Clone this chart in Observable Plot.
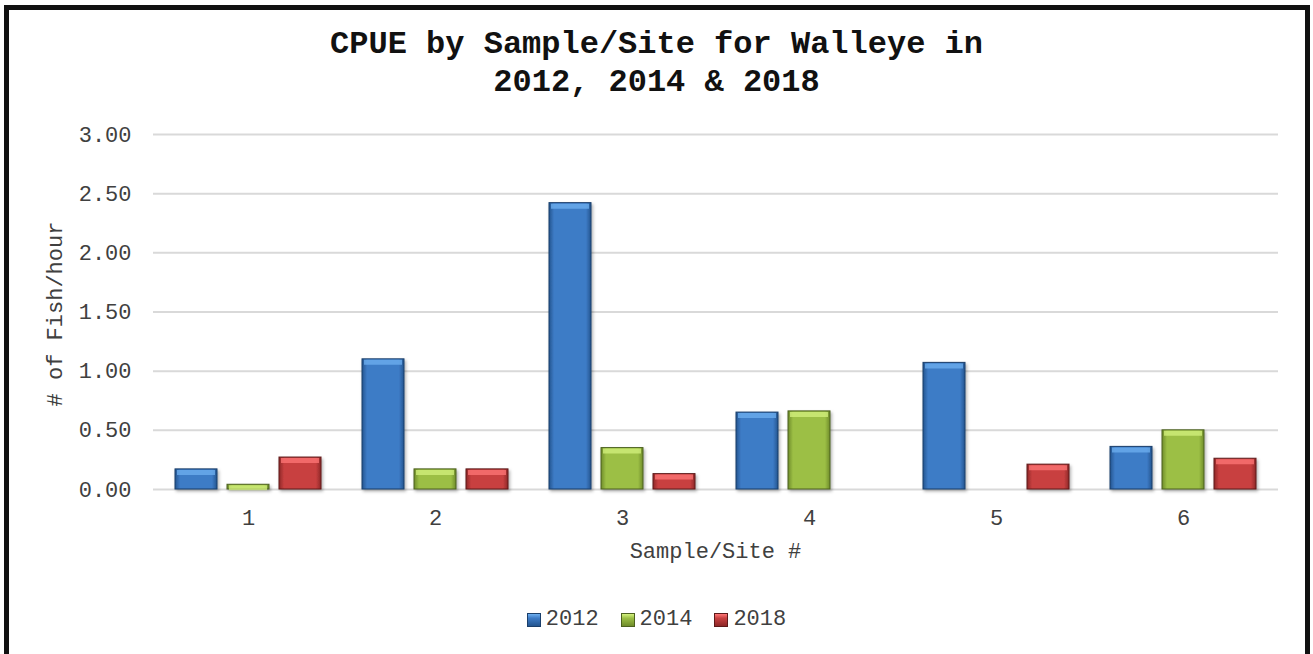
<!DOCTYPE html>
<html><head><meta charset="utf-8">
<script src="https://cdn.jsdelivr.net/npm/d3@7"></script>
<script src="https://cdn.jsdelivr.net/npm/@observablehq/plot@0.6"></script>
<style>
body{margin:0;background:#fff;}
#wrap{position:relative;width:1313px;height:654px;overflow:hidden;background:#fff;font-family:"Liberation Mono","Courier New",monospace;}
#frame{position:absolute;left:4px;top:5px;width:1296px;height:700px;border:5px solid #111;border-bottom:none;box-sizing:content-box;z-index:3;}
#title{position:absolute;left:0;top:26px;width:1313px;text-align:center;font-weight:bold;font-size:32px;line-height:38px;color:#111;z-index:2;}
#chart svg{position:absolute;left:0;top:0;}
#ylab{position:absolute;left:57px;top:314px;transform:translate(-50%,-50%) rotate(-90deg);font-size:22px;line-height:26px;color:#404040;white-space:nowrap;z-index:2;}
#xlab{position:absolute;left:0;width:1431px;top:540px;text-align:center;font-size:22px;line-height:26px;color:#404040;z-index:2;}
#legend{position:absolute;left:0;top:607px;width:1313px;display:flex;justify-content:center;align-items:center;font-size:22px;line-height:26px;color:#404040;z-index:2;}
.item{display:flex;align-items:center;margin:0 11px;}
.sw{width:14px;height:14px;margin-right:5px;box-sizing:border-box;}
</style>
</head><body>
<div id="wrap">
  <div id="chart"></div>
  <div id="title">CPUE by Sample/Site for Walleye in<br>2012, 2014 &amp; 2018</div>
  <div id="ylab"># of Fish/hour</div>
  <div id="xlab">Sample/Site #</div>
  <div id="legend"></div>
  <div id="frame"></div>
</div>
<script>
// ---- data ----
const sites = ["1", "2", "3", "4", "5", "6"];
const years = ["2012", "2014", "2018"];
const cpue2012 = [0.17, 1.10, 2.42, 0.65, 1.07, 0.36];
const cpue2014 = [0.04, 0.17, 0.35, 0.66, 0.00, 0.50];
const cpue2018 = [0.27, 0.17, 0.13, 0.00, 0.21, 0.26];
const yTicks = [0, 0.5, 1, 1.5, 2, 2.5, 3];

// ---- styles ----
const palette = {
  "2012": {mid: "#3d7bc6", light: "#6fb0f0", dark: "#23558f", edge: "#1b3f6b"},
  "2014": {mid: "#9cbf45", light: "#d4f27f", dark: "#6f8c2a", edge: "#4d6120"},
  "2018": {mid: "#c84141", light: "#ff7777", dark: "#8e2727", edge: "#5e1a1a"}
};
const offsets = {"2012": -52, "2014": 0, "2018": 52};

const series = {"2012": cpue2012, "2014": cpue2014, "2018": cpue2018};
const rows = years.map(yr => sites.map((s, i) => ({site: s, year: yr, value: series[yr][i]})));

function defs() {
  const d = d3.create("svg:defs");
  for (const yr of years) {
    const c = palette[yr];
    const g = d.append("linearGradient").attr("id", "g" + yr).attr("x1", 0).attr("x2", 1).attr("y1", 0).attr("y2", 0);
    g.append("stop").attr("offset", "0").attr("stop-color", c.dark);
    g.append("stop").attr("offset", "0.12").attr("stop-color", c.mid);
    g.append("stop").attr("offset", "0.88").attr("stop-color", c.mid);
    g.append("stop").attr("offset", "1").attr("stop-color", c.dark);
  }
  const f = d.append("filter").attr("id", "shadow").attr("x", "-20%").attr("y", "-20%").attr("width", "150%").attr("height", "150%");
  f.append("feDropShadow").attr("dx", 1.5).attr("dy", 2).attr("stdDeviation", 1.5).attr("flood-color", "#000").attr("flood-opacity", 0.3);
  return d.node();
}

const marks = [
  defs,
  Plot.ruleY(yTicks, {stroke: "#d9d9d9", strokeWidth: 2})
];
years.forEach((yr, k) => {
  const c = palette[yr];
  const data = rows[k].filter(d => d.value > 0);
  marks.push(Plot.barY(data, {x: "site", y: "value", dx: offsets[yr], fill: `url(#g${yr})`, stroke: c.edge, strokeWidth: 1, className: "bars"}));
  marks.push(Plot.tickY(data, {x: "site", y: "value", dx: offsets[yr], dy: 3, stroke: c.light, strokeWidth: 5, strokeOpacity: 0.75, insetLeft: 2, insetRight: 2}));
});

const chart = Plot.plot({
  width: 1313,
  height: 654,
  marginLeft: 153,
  marginRight: 35,
  marginTop: 134,
  marginBottom: 165,
  style: {fontFamily: '"Liberation Mono","Courier New",monospace', fontSize: "22px", color: "#404040", background: "transparent", overflow: "visible"},
  x: {type: "band", domain: sites, paddingInner: 0.776, paddingOuter: 0.388, label: null, tickSize: 0, tickPadding: 20},
  y: {domain: [0, 3], ticks: yTicks, tickFormat: d3.format(".2f"), label: null, tickSize: 0, tickPadding: 22},
  marks
});
d3.select(chart).selectAll(".bars").attr("filter", "url(#shadow)");
document.getElementById("chart").appendChild(chart);

// ---- legend ----
const lg = d3.select("#legend");
for (const yr of years) {
  const c = palette[yr];
  const it = lg.append("div").attr("class", "item");
  it.append("div").attr("class", "sw")
    .style("background", `linear-gradient(180deg, ${c.light} 0%, ${c.mid} 35%, ${c.dark} 100%)`)
    .style("border", `1px solid ${c.edge}`);
  it.append("span").text(yr);
}
</script>
</body></html>
